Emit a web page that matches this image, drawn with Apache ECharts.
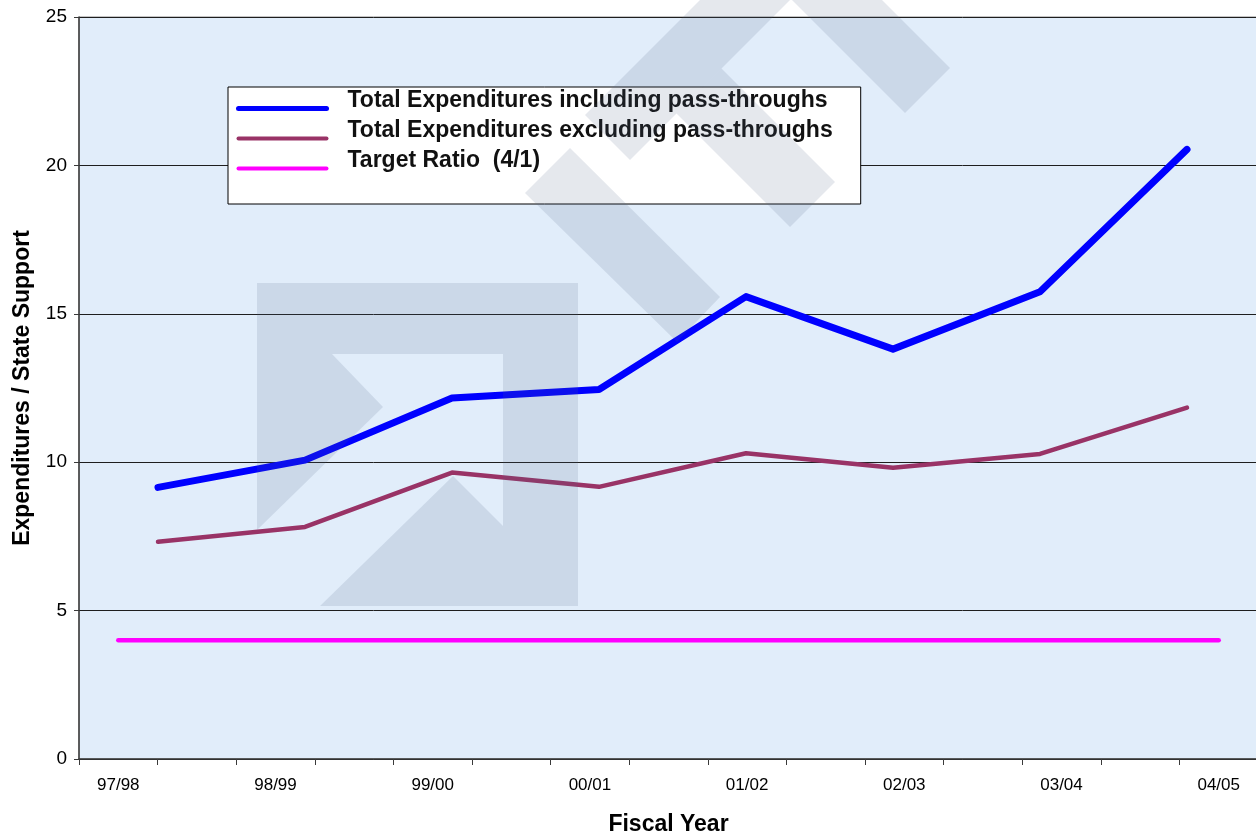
<!DOCTYPE html>
<html><head><meta charset="utf-8">
<script src="https://cdn.jsdelivr.net/npm/echarts@6/dist/echarts.min.js"></script>
<style>html,body{margin:0;padding:0;background:#fff}#c{width:1256px;height:835px}</style>
</head><body><div id="c"></div>
<script>
// ---- data ----
const fiscalYears = ['97/98','98/99','99/00','00/01','01/02','02/03','03/04','04/05'];
const inclPassThroughs = [9.15, 10.07, 12.16, 12.45, 15.58, 13.81, 15.74, 20.54];
const exclPassThroughs = [7.32, 7.82, 9.65, 9.17, 10.30, 9.81, 10.28, 11.84];
const targetRatio = [4, 4, 4, 4, 4, 4, 4, 4];
const yMin = 0, yMax = 25, yStep = 5;
const seriesNames = ['Total Expenditures including pass-throughs',
                     'Total Expenditures excluding pass-throughs',
                     'Target Ratio  (4/1)'];

// category axis has an unlabeled slot between fiscal years
const axisSlots = [];
fiscalYears.forEach((fy, i) => { axisSlots.push(fy); if (i < fiscalYears.length - 1) axisSlots.push(''); });
const targetSlots = [];
targetRatio.forEach((v, i) => { targetSlots.push(v); if (i < targetRatio.length - 1) targetSlots.push(null); });

const FONT = '"Liberation Sans", Arial, Helvetica, sans-serif';
const WM = 'rgba(80,100,135,0.15)';
const wm = (pts) => ({ type: 'polygon', silent: true, z: 100, shape: { points: pts }, style: { fill: WM } });

const chart = echarts.init(document.getElementById('c'), null, { renderer: 'canvas' });
chart.setOption({
  animation: false,
  backgroundColor: '#ffffff',
  textStyle: { fontFamily: FONT },
  grid: [
    { left: 79, right: -2, top: 17, bottom: 76, outerBoundsMode: 'none', containLabel: false,
      show: true, backgroundColor: '#e1edfa', borderColor: '#8a8a8a', borderWidth: 1 },
    { left: 158, right: 69, top: 17, bottom: 76, outerBoundsMode: 'none', containLabel: false }
  ],
  xAxis: [
    { gridIndex: 0, type: 'category', data: axisSlots, boundaryGap: true,
      axisLine: { lineStyle: { color: '#3a3a3a', width: 1.5 } },
      axisTick: { show: true, interval: 0, length: 6, lineStyle: { color: '#3a3a3a' } },
      axisLabel: { interval: 0, fontSize: 17, color: '#000', margin: 18, fontFamily: FONT },
      name: 'Fiscal Year', nameLocation: 'middle', nameGap: 54,
      nameTextStyle: { fontSize: 23, fontWeight: 'bold', color: '#000', fontFamily: FONT },
      splitLine: { show: false } },
    { gridIndex: 1, type: 'category', data: fiscalYears, boundaryGap: false, show: false }
  ],
  yAxis: [
    { gridIndex: 0, type: 'value', min: yMin, max: yMax, interval: yStep,
      axisLine: { show: true, lineStyle: { color: '#3a3a3a', width: 1.5 } },
      axisTick: { show: true, length: 5, lineStyle: { color: '#3a3a3a' } },
      axisLabel: { fontSize: 19, color: '#000', margin: 12, fontFamily: FONT },
      splitLine: { show: true, lineStyle: { color: '#1e1e1e', width: 1 } },
      name: 'Expenditures / State Support', nameLocation: 'middle', nameGap: 45,
      nameTextStyle: { fontSize: 23, fontWeight: 'bold', color: '#000', fontFamily: FONT } },
    { gridIndex: 1, type: 'value', min: yMin, max: yMax, show: false }
  ],
  legend: {
    orient: 'vertical', left: 228, top: 87,
    backgroundColor: '#ffffff', borderColor: '#000', borderWidth: 1,
    padding: [2, 28, 16, 8], itemWidth: 88, itemHeight: 14, itemGap: -9,
    itemStyle: { opacity: 0 },
    formatter: (name) => name + '\n',
    textStyle: { fontSize: 23, fontWeight: 'bold', color: '#111', lineHeight: 16, padding: [0, 0, 0, 16], fontFamily: FONT },
    data: [
      { name: seriesNames[0], lineStyle: { width: 5, cap: 'round' } },
      { name: seriesNames[1], lineStyle: { width: 4, cap: 'round' } },
      { name: seriesNames[2], lineStyle: { width: 4, cap: 'round' } }
    ]
  },
  series: [
    { name: seriesNames[0], type: 'line', xAxisIndex: 1, yAxisIndex: 1, data: inclPassThroughs,
      symbol: 'none', z: 5, color: '#0000ff',
      lineStyle: { color: '#0000ff', width: 7, cap: 'round', join: 'round' } },
    { name: seriesNames[1], type: 'line', xAxisIndex: 1, yAxisIndex: 1, data: exclPassThroughs,
      symbol: 'none', z: 4, color: '#993366',
      lineStyle: { color: '#993366', width: 4.5, cap: 'round', join: 'round' } },
    { name: seriesNames[2], type: 'line', xAxisIndex: 0, yAxisIndex: 0, data: targetSlots,
      connectNulls: true, symbol: 'none', z: 3, color: '#ff00ff',
      lineStyle: { color: '#ff00ff', width: 4.5, cap: 'round', join: 'round' } }
  ],
  graphic: [
    wm([[257,283],[578,283],[578,606],[320,606],[453,476],[503,526],[503,354],[332,354],[383,407],[257,530]]),
    wm([[525,193],[570,148],[720,297],[677,342]]),
    wm([[585,115],[630,160],[790,0],[700,0]]),
    wm([[721.5,68.5],[835,182],[790,227],[676.5,113.5]]),
    wm([[792,0],[882,0],[950,68],[905,113]])
  ]
});
</script></body></html>
